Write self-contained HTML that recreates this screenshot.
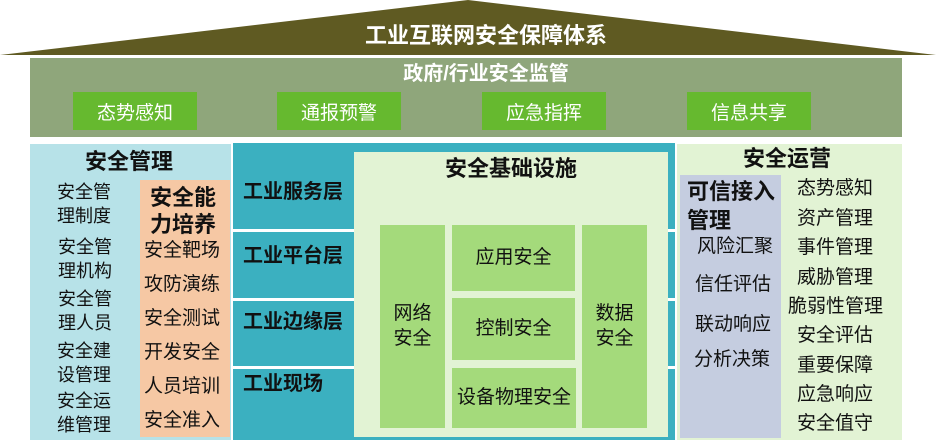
<!DOCTYPE html>
<html><head><meta charset="utf-8"><style>
*{margin:0;padding:0;box-sizing:border-box}
body{width:936px;height:448px;background:#fff;position:relative;overflow:hidden;font-family:"Liberation Sans","Noto Sans CJK SC",sans-serif;color:#111}
div{position:absolute}
.t{white-space:nowrap;line-height:1}
.b{font-weight:bold}
.gb{background:#66b92f;color:#fff;font-size:19px;display:flex;align-items:center;justify-content:center}
.lg{background:#a4da7b;display:flex;align-items:center;justify-content:center;text-align:center;font-size:19px;line-height:1.3}
.ly{font-size:20px;font-weight:bold;left:243px}
.r{font-size:19px;left:797px}
</style></head><body>
<svg style="position:absolute;left:0;top:0" width="936" height="60"><polygon points="468,0 936,55 0,55" fill="#5f5a22"/></svg>
<div class="t b" style="left:18px;width:936px;text-align:center;top:25px;color:#fff;font-size:22px">工业互联网安全保障体系</div>
<div style="left:30px;top:58px;width:872px;height:79px;background:#8fa67b"></div>
<div class="t b" style="left:50px;width:872px;text-align:center;top:64px;color:#fff;font-size:20px">政府/行业安全监管</div>
<div class="gb" style="left:73px;top:92px;width:124px;height:38px">态势感知</div>
<div class="gb" style="left:277px;top:92px;width:124px;height:38px">通报预警</div>
<div class="gb" style="left:482px;top:92px;width:124px;height:38px">应急指挥</div>
<div class="gb" style="left:687px;top:92px;width:124px;height:38px">信息共享</div>

<div style="left:30px;top:144px;width:201px;height:296px;background:#b7e2e8"></div>
<div class="t b" style="left:85px;top:151px;font-size:22px">安全管理</div>
<div style="left:57px;top:180px;font-size:18px;line-height:24px;width:70px">安全管<br>理制度</div>
<div style="left:58px;top:235px;font-size:18px;line-height:24px;width:70px">安全管<br>理机构</div>
<div style="left:58px;top:287px;font-size:18px;line-height:24px;width:70px">安全管<br>理人员</div>
<div style="left:57px;top:339px;font-size:18px;line-height:24px;width:70px">安全建<br>设管理</div>
<div style="left:57px;top:389px;font-size:18px;line-height:24px;width:70px">安全运<br>维管理</div>
<div style="left:140px;top:180px;width:90px;height:257px;background:#f6c8a4"></div>
<div class="b" style="left:150px;top:184px;font-size:22px;line-height:27px;width:80px">安全能<br>力培养</div>
<div class="t" style="left:144px;top:241px;font-size:19px">安全靶场</div>
<div class="t" style="left:144px;top:275px;font-size:19px">攻防演练</div>
<div class="t" style="left:144px;top:309px;font-size:19px">安全测试</div>
<div class="t" style="left:144px;top:343px;font-size:19px">开发安全</div>
<div class="t" style="left:144px;top:377px;font-size:19px">人员培训</div>
<div class="t" style="left:144px;top:411px;font-size:19px">安全准入</div>

<div style="left:233px;top:143px;width:442px;height:297px;background:#3bb0c0"></div>
<div style="left:233px;top:229px;width:442px;height:3px;background:#fff"></div>
<div style="left:233px;top:298px;width:442px;height:3px;background:#fff"></div>
<div style="left:233px;top:366px;width:442px;height:3px;background:#fff"></div>
<div class="t ly" style="top:182px">工业服务层</div>
<div class="t ly" style="top:246px">工业平台层</div>
<div class="t ly" style="top:312px">工业边缘层</div>
<div class="t ly" style="top:374px">工业现场</div>
<div style="left:354px;top:152px;width:314px;height:285px;background:#e2f3d4"></div>
<div class="t b" style="left:354px;width:314px;text-align:center;top:158px;font-size:22px">安全基础设施</div>
<div class="lg" style="left:380px;top:225px;width:65px;height:203px">网络<br>安全</div>
<div class="lg" style="left:452px;top:225px;width:123px;height:66px">应用安全</div>
<div class="lg" style="left:452px;top:298px;width:123px;height:62px">控制安全</div>
<div class="lg" style="left:452px;top:368px;width:124px;height:60px">设备物理安全</div>
<div class="lg" style="left:582px;top:225px;width:65px;height:203px">数据<br>安全</div>

<div style="left:677px;top:144px;width:225px;height:296px;background:#e2f3d4"></div>
<div class="t b" style="left:743px;top:148px;font-size:22px">安全运营</div>
<div style="left:680px;top:175px;width:101px;height:263px;background:#c5cde0"></div>
<div class="b" style="left:687px;top:177px;font-size:22px;line-height:29px;width:100px">可信接入<br>管理</div>
<div class="t" style="left:697px;top:237px;font-size:19px">风险汇聚</div>
<div class="t" style="left:695px;top:275px;font-size:19px">信任评估</div>
<div class="t" style="left:695px;top:315px;font-size:19px">联动响应</div>
<div class="t" style="left:694px;top:350px;font-size:19px">分析决策</div>
<div class="t r" style="top:179px">态势感知</div>
<div class="t r" style="top:209px">资产管理</div>
<div class="t r" style="top:238px">事件管理</div>
<div class="t r" style="top:268px">威胁管理</div>
<div class="t r" style="left:788px;top:297px">脆弱性管理</div>
<div class="t r" style="top:326px">安全评估</div>
<div class="t r" style="top:356px">重要保障</div>
<div class="t r" style="top:385px">应急响应</div>
<div class="t r" style="top:414px">安全值守</div>
</body></html>
